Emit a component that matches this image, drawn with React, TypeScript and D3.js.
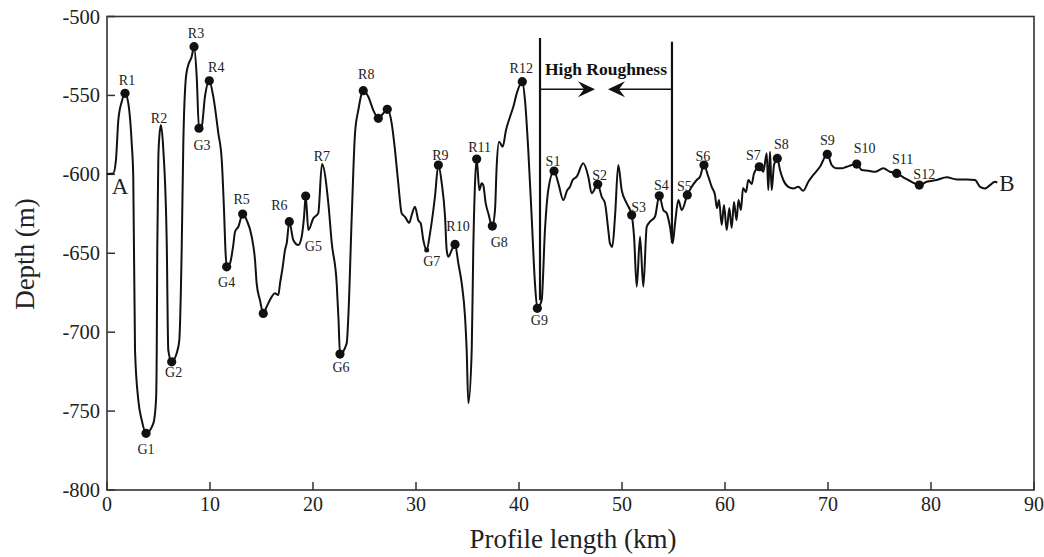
import React from "react";
import * as d3 from "d3";

// Profile (km, depth m)
const profile: [number, number][] = [
  [0.0, -599.8], [0.61, -599.4], [0.87, -590.9], [1.1, -565.6], [1.43, -554], [1.75, -548.7],
  [2.07, -555], [2.4, -580.4], [2.55, -601.5], [2.72, -711.3], [3.04, -743], [3.37, -755.7],
  [3.79, -764.1], [4.5, -757.8], [4.76, -743], [4.83, -711.3], [4.88, -648], [4.98, -590.9],
  [5.08, -576.2], [5.24, -568.8], [5.47, -584.6], [5.8, -643.5], [5.95, -711.3], [6.28, -718.8],
  [6.77, -713.2], [7.02, -705], [7.25, -648], [7.41, -580.2], [7.67, -538.1], [7.89, -530.7],
  [8.22, -525.5], [8.45, -519.1], [8.71, -538.1], [8.93, -570.8], [9.19, -569.8], [9.51, -550.8],
  [9.93, -540.7], [10.32, -550.8], [10.81, -574], [11.14, -590.9], [11.36, -622.6], [11.5, -648],
  [11.62, -658.6], [11.94, -656.4], [12.26, -644.8], [12.43, -636.4], [12.75, -633.2], [13.17, -625.2],
  [13.56, -629], [14.05, -639.5], [14.37, -654.3], [14.53, -669.1], [14.85, -679.7], [15.17, -688.1],
  [15.5, -683.9], [15.99, -677.6], [16.31, -675.4], [16.63, -676.5], [16.8, -669.1], [17.06, -658.6],
  [17.28, -648], [17.45, -643.5], [17.7, -630], [18.09, -641.6], [18.57, -644.8], [18.9, -639.5],
  [19.13, -626.9], [19.29, -613.8], [19.55, -635.3], [20.03, -627.9], [20.51, -624.7], [20.87, -593.5],
  [21.49, -618.4], [21.82, -643.5], [22.3, -669.1], [22.48, -692.3], [22.62, -713.9], [23.27, -707.1],
  [23.43, -690.2], [23.76, -626.9], [24.08, -574], [24.4, -559.3], [24.88, -547], [25.37, -550.8],
  [25.85, -559.3], [26.34, -564.5], [26.83, -561.3], [27.21, -558.8], [27.64, -567.7], [27.96, -584.6],
  [28.28, -605.7], [28.61, -624.7], [28.93, -626.9], [29.35, -630.7], [29.58, -625.8], [29.9, -620.5],
  [30.22, -629], [30.46, -631.1], [30.71, -641.6], [31.04, -648], [31.36, -637.4], [31.84, -614.2],
  [32.17, -594.1], [32.5, -605.7], [32.82, -626.9], [32.98, -648], [33.14, -652.2], [33.47, -648],
  [33.79, -644.4], [34.11, -656.4], [34.44, -669.1], [34.76, -690.2], [34.92, -711.3], [35.08, -745.1],
  [35.41, -711.3], [35.56, -648], [35.73, -605.7], [35.89, -590.3], [36.15, -610], [36.38, -605.7],
  [36.53, -606.8], [36.77, -618.4], [37.02, -624.7], [37.41, -632.8], [37.67, -622.6], [37.83, -595.2],
  [38.06, -579.3], [38.42, -582.5], [38.74, -571.9], [39.13, -563.5], [39.45, -557.2], [39.78, -548.7],
  [40.32, -541.3], [40.58, -552.9], [40.9, -584.6], [41.23, -626.9], [41.55, -669.1], [41.78, -684.9],
  [42.2, -679.7], [42.52, -635.3], [42.84, -610], [43.4, -597.9], [43.82, -605.7], [44.3, -616.3],
  [44.69, -610], [44.95, -607.9], [45.21, -603.6], [45.6, -601.5], [46.24, -593], [46.73, -601.5],
  [47.06, -612], [47.64, -606.3], [48.03, -614.2], [48.35, -618.4], [48.67, -635.3], [48.83, -643.7],
  [49.06, -645.9], [49.32, -626.9], [49.64, -594.1], [49.97, -610], [50.46, -618.4], [50.94, -625.8],
  [51.17, -639.5], [51.43, -671.2], [51.75, -639.5], [52.07, -671.2], [52.4, -633.2], [52.72, -630],
  [53.2, -626.9], [53.62, -613.6], [54.01, -622.6], [54.34, -624.7], [54.66, -633.2], [54.92, -643.7],
  [55.15, -631.1], [55.47, -616.3], [55.8, -622.6], [56.34, -613.1], [56.77, -607.9], [57.25, -603.6],
  [57.57, -601.5], [57.96, -594.1], [58.38, -601.5], [58.71, -607.9], [59.03, -613.1], [59.22, -621.4],
  [59.42, -616.3], [59.68, -632.1], [59.9, -619.5], [60.17, -635.3], [60.42, -621.4], [60.65, -634],
  [60.87, -617.6], [61.12, -629], [61.31, -616.3], [61.55, -622.6], [61.75, -608.7], [62.04, -611.2],
  [62.26, -603.6], [62.59, -606.1], [62.82, -599.4], [63.33, -595.2], [63.72, -598.4], [64.05, -586.7],
  [64.2, -610], [64.37, -585.7], [64.53, -610], [64.76, -594.1], [65.08, -589.9], [65.34, -597.3],
  [65.66, -603.6], [66.14, -607.9], [66.63, -608.9], [67.12, -607.9], [67.6, -610.4], [68.09, -604.7],
  [68.57, -600.4], [69.22, -595.2], [69.93, -587.3], [70.36, -594.1], [70.84, -596.2], [71.33, -596.2],
  [71.81, -595.2], [72.3, -594.1], [72.79, -593.5], [73.27, -597.3], [73.91, -597.7], [74.56, -598.4],
  [75.37, -596.2], [76.02, -598.4], [76.67, -599.4], [77.48, -602.5], [78.16, -604.9], [78.86, -606.8],
  [79.58, -604.7], [80.55, -603.6], [81.52, -601.9], [82.5, -603.2], [83.47, -603.2], [84.27, -603.6],
  [84.76, -607.9], [85.24, -608.9], [85.73, -606.8], [86.21, -604.7], [86.44, -605.3],
];

// Named features: name, km, depth, dot style (0 none, 1 large, 2 small)
const markers: { name: string; km: number; depth: number; dot: number }[] = [
  { name: "R1", km: 1.75, depth: -548.7, dot: 1 },
  { name: "G1", km: 3.79, depth: -764.1, dot: 1 },
  { name: "R2", km: 5.24, depth: -568.8, dot: 0 },
  { name: "G2", km: 6.28, depth: -718.8, dot: 1 },
  { name: "R3", km: 8.45, depth: -519.1, dot: 1 },
  { name: "G3", km: 8.93, depth: -570.8, dot: 1 },
  { name: "R4", km: 9.93, depth: -540.7, dot: 1 },
  { name: "G4", km: 11.62, depth: -658.6, dot: 1 },
  { name: "R5", km: 13.17, depth: -625.2, dot: 1 },
  { name: "", km: 15.17, depth: -688.1, dot: 1 },
  { name: "R6", km: 17.7, depth: -630, dot: 1 },
  { name: "", km: 19.29, depth: -613.8, dot: 1 },
  { name: "G5", km: 19.55, depth: -635.3, dot: 0 },
  { name: "R7", km: 20.87, depth: -593.5, dot: 0 },
  { name: "G6", km: 22.62, depth: -713.9, dot: 1 },
  { name: "R8", km: 24.88, depth: -547, dot: 1 },
  { name: "", km: 26.34, depth: -564.5, dot: 1 },
  { name: "", km: 27.21, depth: -558.8, dot: 1 },
  { name: "G7", km: 31.04, depth: -648, dot: 2 },
  { name: "R9", km: 32.17, depth: -594.1, dot: 1 },
  { name: "R10", km: 33.79, depth: -644.4, dot: 1 },
  { name: "R11", km: 35.89, depth: -590.3, dot: 1 },
  { name: "G8", km: 37.41, depth: -632.8, dot: 1 },
  { name: "R12", km: 40.32, depth: -541.3, dot: 1 },
  { name: "G9", km: 41.78, depth: -684.9, dot: 1 },
  { name: "S1", km: 43.4, depth: -597.9, dot: 1 },
  { name: "S2", km: 47.64, depth: -606.3, dot: 1 },
  { name: "S3", km: 50.94, depth: -625.8, dot: 1 },
  { name: "S4", km: 53.62, depth: -613.6, dot: 1 },
  { name: "S5", km: 56.34, depth: -613.1, dot: 1 },
  { name: "S6", km: 57.96, depth: -594.1, dot: 1 },
  { name: "S7", km: 63.33, depth: -595.2, dot: 1 },
  { name: "S8", km: 65.08, depth: -589.9, dot: 1 },
  { name: "S9", km: 69.93, depth: -587.3, dot: 1 },
  { name: "S10", km: 72.79, depth: -593.5, dot: 1 },
  { name: "S11", km: 76.67, depth: -599.4, dot: 1 },
  { name: "S12", km: 78.86, depth: -606.8, dot: 1 },
];

// label offsets in px relative to the feature point
const labelOffsets: Record<string, [number, number]> = {
  R1: [2, -13], G1: [0, 16], R2: [-2, -7], G2: [2, 11], R3: [2, -13], G3: [3, 17],
  R4: [7, -13], G4: [0, 16], R5: [-1, -15], R6: [-10, -16], G5: [5, 16], R7: [0, -8],
  G6: [1, 13], R8: [3, -16], G7: [5, 11], R9: [2, -10], R10: [3, -18], R11: [3, -12],
  G8: [7, 16], R12: [-1, -13], G9: [2, 12], S1: [-1, -10], S2: [2, -9], S3: [7, -8],
  S4: [2, -10], S5: [-3, -9], S6: [-1, -9], S7: [-6, -11], S8: [4, -14], S9: [0, -14],
  S10: [8, -16], S11: [6, -14], S12: [5, -11],
};

const xTicks = [0, 10, 20, 30, 40, 50, 60, 70, 80, 90];
const yTicks = [-500, -550, -600, -650, -700, -750, -800];

// High roughness zone
const roughStart = 42.04;
const roughEnd = 54.85;
const roughTopLeft = -513.6;
const roughBottomLeft = -679.7;
const roughTopRight = -516;
const roughBottomRight = -643.5;
const arrowDepth = -546.1;
const arrowRightTip = 47.38;
const arrowLeftTip = 48.64;

const FONT = "'Liberation Serif', 'Times New Roman', serif";

export default function App() {
  const x = d3.scaleLinear().domain([0, 90]).range([107, 1034]);
  const y = d3.scaleLinear().domain([-800, -500]).range([490, 16.5]);
  const line = d3
    .line<[number, number]>()
    .x((d) => x(d[0]))
    .y((d) => y(d[1]))
    .curve(d3.curveMonotoneX);

  const ay = y(arrowDepth);
  const head = (tip: number, dir: number) => {
    const tx = x(tip);
    const L = 17;
    const h = 8;
    const n = 11;
    return `M${tx},${ay} L${tx - dir * L},${ay - h} L${tx - dir * n},${ay} L${tx - dir * L},${ay + h} Z`;
  };

  return (
    <svg
      width={1044}
      height={557}
      style={{ position: "absolute", left: 0, top: 0, background: "#fff" }}
      fontFamily={FONT}
    >
      <rect x={0} y={0} width={1044} height={557} fill="#fff" />
      {/* frame */}
      <rect
        x={x(0)}
        y={y(-500)}
        width={x(90) - x(0)}
        height={y(-800) - y(-500)}
        fill="none"
        stroke="#333"
        strokeWidth={1.6}
      />
      {xTicks.map((t) => (
        <g key={"x" + t}>
          <line x1={x(t)} x2={x(t)} y1={y(-800)} y2={y(-800) - 8} stroke="#333" strokeWidth={1.5} />
          <text x={x(t)} y={504} textAnchor="middle" dominantBaseline="central" fontSize={20} fill="#222">
            {t}
          </text>
        </g>
      ))}
      {yTicks.map((t) => (
        <g key={"y" + t}>
          <line x1={x(0)} x2={x(0) + 8} y1={y(t)} y2={y(t)} stroke="#333" strokeWidth={1.5} />
          <text x={100} y={y(t)} textAnchor="end" dominantBaseline="central" fontSize={20.5} fill="#222">
            {t}
          </text>
        </g>
      ))}
      <text x={573} y={539} textAnchor="middle" dominantBaseline="central" fontSize={27} fill="#222">
        Profile length (km)
      </text>
      <text
        transform={`translate(25,254) rotate(-90)`}
        textAnchor="middle"
        dominantBaseline="central"
        fontSize={27}
        fill="#222"
      >
        Depth (m)
      </text>

      {/* profile */}
      <path d={line(profile) || ""} fill="none" stroke="#111" strokeWidth={2} strokeLinejoin="round" />

      {/* roughness annotation */}
      <line x1={x(roughStart)} x2={x(roughStart)} y1={y(roughTopLeft)} y2={y(roughBottomLeft)} stroke="#111" strokeWidth={2.2} />
      <line x1={x(roughEnd)} x2={x(roughEnd)} y1={y(roughTopRight)} y2={y(roughBottomRight)} stroke="#111" strokeWidth={2.2} />
      <line x1={x(roughStart)} x2={x(arrowRightTip) - 8} y1={ay} y2={ay} stroke="#111" strokeWidth={1.5} />
      <line x1={x(arrowLeftTip) + 8} x2={x(roughEnd)} y1={ay} y2={ay} stroke="#111" strokeWidth={1.5} />
      <path d={head(arrowRightTip, 1)} fill="#111" />
      <path d={head(arrowLeftTip, -1)} fill="#111" />
      <text
        x={(x(roughStart) + x(roughEnd)) / 2}
        y={69}
        textAnchor="middle"
        dominantBaseline="central"
        fontSize={17.5}
        fontWeight="bold"
        fill="#111"
      >
        High Roughness
      </text>

      {/* markers */}
      {markers.map((m, i) =>
        m.dot ? (
          <circle key={"c" + i} cx={x(m.km)} cy={y(m.depth)} r={m.dot === 2 ? 2.5 : 4.6} fill="#111" />
        ) : null
      )}
      {markers.map((m, i) => {
        if (!m.name) return null;
        const off = labelOffsets[m.name] || [0, -12];
        return (
          <text
            key={"t" + i}
            x={x(m.km) + off[0]}
            y={y(m.depth) + off[1]}
            textAnchor="middle"
            dominantBaseline="central"
            fontSize={14}
            fill="#222"
          >
            {m.name}
          </text>
        );
      })}
      <text x={120} y={186} textAnchor="middle" dominantBaseline="central" fontSize={23} fill="#222">
        A
      </text>
      <text x={1007} y={183} textAnchor="middle" dominantBaseline="central" fontSize={23} fill="#222">
        B
      </text>
    </svg>
  );
}
